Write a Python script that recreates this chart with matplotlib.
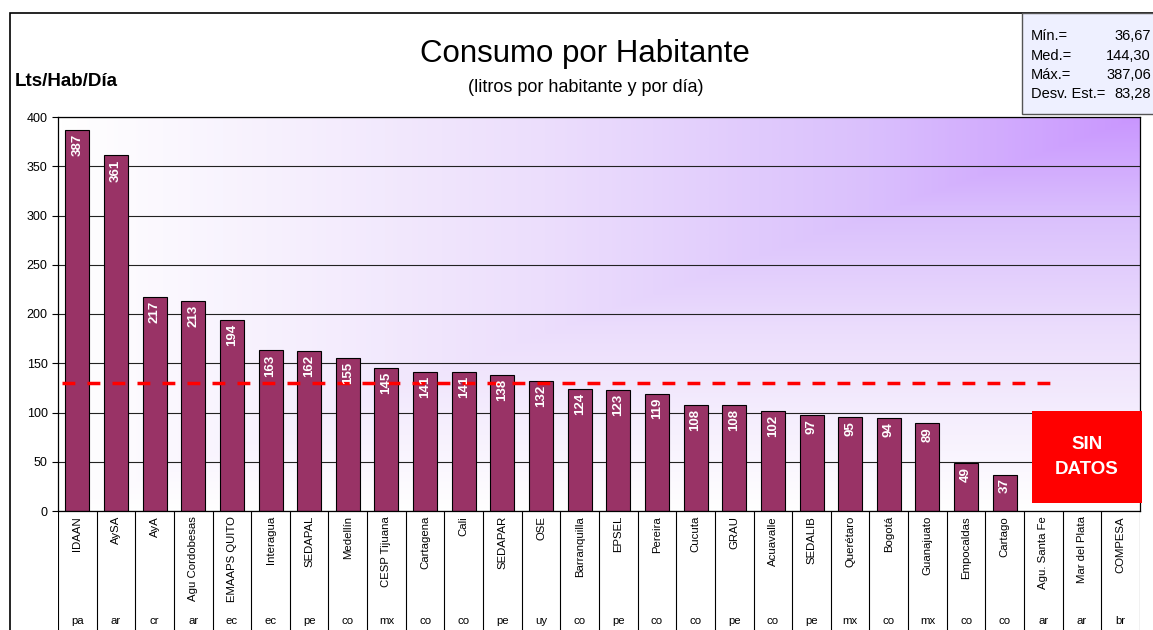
import numpy as np
import matplotlib.pyplot as plt
from matplotlib import font_manager
from matplotlib.colors import LinearSegmentedColormap
from matplotlib.patches import Rectangle

# ---------------- data ----------------
operadores = ['IDAAN', 'AySA', 'AyA', 'Agu Cordobesas', 'EMAAPS QUITO', 'Interagua',
              'SEDAPAL', 'Medellín', 'CESP Tijuana', 'Cartagena', 'Cali', 'SEDAPAR',
              'OSE', 'Barranquilla', 'EPSEL', 'Pereira', 'Cucuta', 'GRAU', 'Acuavalle',
              'SEDALIB', 'Querétaro', 'Bogotá', 'Guanajuato', 'Empocaldas', 'Cartago',
              'Agu. Santa Fe', 'Mar del Plata', 'COMPESA']
paises = ['pa', 'ar', 'cr', 'ar', 'ec', 'ec', 'pe', 'co', 'mx', 'co', 'co', 'pe',
          'uy', 'co', 'pe', 'co', 'co', 'pe', 'co', 'pe', 'mx', 'co', 'mx', 'co', 'co',
          'ar', 'ar', 'br']
consumo = [387, 361, 217, 213, 194, 163, 162, 155, 145, 141, 141, 138, 132, 124,
           123, 119, 108, 108, 102, 97, 95, 94, 89, 49, 37]
referencia = 130
stats_labels = ['Mín.=', 'Med.=', 'Máx.=', 'Desv. Est.=']
stats_values = ['36,67', '144,30', '387,06', '83,28']

plt.rcParams['font.family'] = ['Liberation Sans', 'DejaVu Sans']

# narrow face if there is one
installed = {f.name for f in font_manager.fontManager.ttflist}
has_narrow = 'Liberation Sans Narrow' in installed
narrow = ['Liberation Sans Narrow', 'Liberation Sans'] if has_narrow else ['Liberation Sans']
cat_size = 9.5 if has_narrow else 8.2
val_size = 11 if has_narrow else 9.5

W, H = 1153, 630
fig = plt.figure(figsize=(W / 100, H / 100), dpi=100)

# outer frame
fig.patches.append(Rectangle((10 / W, -0.05), 1.2, 1 - 13 / H + 0.05, transform=fig.transFigure,
                             fill=False, edgecolor='black', linewidth=1.2, zorder=0))

x0, x1, y_top, y_bot = 58, 1140, 117, 511
ax = fig.add_axes([x0 / W, 1 - y_bot / H, (x1 - x0) / W, (y_bot - y_top) / H])

n = len(operadores)
ax.set_xlim(-0.5, n - 0.5)
ax.set_ylim(0, 400)

# "from corner" gradient: white bottom-left -> lilac top-right
gx, gy = np.meshgrid(np.linspace(0, 1, 400), np.linspace(0, 1, 300))
t = 1 - np.maximum(1 - gx, 1 - gy)
cmap = LinearSegmentedColormap.from_list('bg', [(0, '#ffffff'), (0.45, '#ecdefc'),
                                                 (0.75, '#dac0fd'), (1, '#c996ff')])
ax.imshow(t, cmap=cmap, extent=(-0.5, n - 0.5, 0, 400), origin='lower',
          aspect='auto', zorder=0, vmin=0, vmax=1)

ax.set_yticks(range(0, 401, 50))
ax.yaxis.grid(True, color='#222222', linewidth=0.8)
ax.set_axisbelow(True)
for g in ax.get_ygridlines():
    g.set_zorder(1)
ax.tick_params(axis='y', labelsize=9, length=4)
ax.set_xticks([])
for s in ax.spines.values():
    s.set_linewidth(0.9)

xpos = np.arange(len(consumo))
ax.bar(xpos, consumo, width=0.62, color='#993366', edgecolor='black', linewidth=0.8, zorder=2)
for x, v in zip(xpos, consumo):
    ax.text(x, v - 4, str(v), rotation=90, ha='center', va='top', color='white',
            fontsize=val_size, fontweight='bold', family=narrow, zorder=4)

ax.plot([-0.4, 25.2], [referencia, referencia], color='#ff0000', linestyle=(0, (3.7, 3.5)),
        linewidth=2.5, zorder=3)

# category table below the axis (y in pixel rows)
tab = fig.add_axes([x0 / W, 0, (x1 - x0) / W, 1 - y_bot / H])
tab.set_xlim(-0.5, n - 0.5)
tab.set_ylim(H, y_bot)
tab.axis('off')
for k in range(n + 1):
    tab.axvline(k - 0.5, color='black', linewidth=0.8)
for k, (name, pais) in enumerate(zip(operadores, paises)):
    tab.text(k, 516, name, rotation=90, ha='center', va='top', fontsize=cat_size, family=narrow)
    tab.text(k, 621, pais, ha='center', va='center', fontsize=cat_size, family=narrow)

# SIN DATOS box
fig.patches.append(Rectangle((1032 / W, 1 - 503 / H), 110 / W, 92 / H, transform=fig.transFigure,
                             facecolor='#ff0000', edgecolor='none', zorder=5))
fig.text(1087 / W, 1 - 457 / H, 'SIN\nDATOS', ha='center', va='center', color='white',
         fontsize=13.5, fontweight='bold', linespacing=1.6, zorder=6)

# titles
fig.text(585 / W, 1 - 54 / H, 'Consumo por Habitante', ha='center', va='center', fontsize=22.5)
fig.text(586 / W, 1 - 87 / H, '(litros por habitante y por día)', ha='center', va='center', fontsize=13)
fig.text(15 / W, 1 - 81 / H, 'Lts/Hab/Día', ha='left', va='center', fontsize=13.5, fontweight='bold')

# stats box
fig.patches.append(Rectangle((1022 / W, 1 - 114 / H), 140 / W, 101 / H, transform=fig.transFigure,
                             facecolor='#eef0ff', edgecolor='#555555', linewidth=1, zorder=5))
for i, (lab, val) in enumerate(zip(stats_labels, stats_values)):
    yy = 1 - (36 + i * 19.5) / H
    fig.text(1031 / W, yy, lab, ha='left', va='center', fontsize=10.5, zorder=6)
    fig.text(1151 / W, yy, val, ha='right', va='center', fontsize=10.5, zorder=6)

fig.savefig('out.png', dpi=100)
